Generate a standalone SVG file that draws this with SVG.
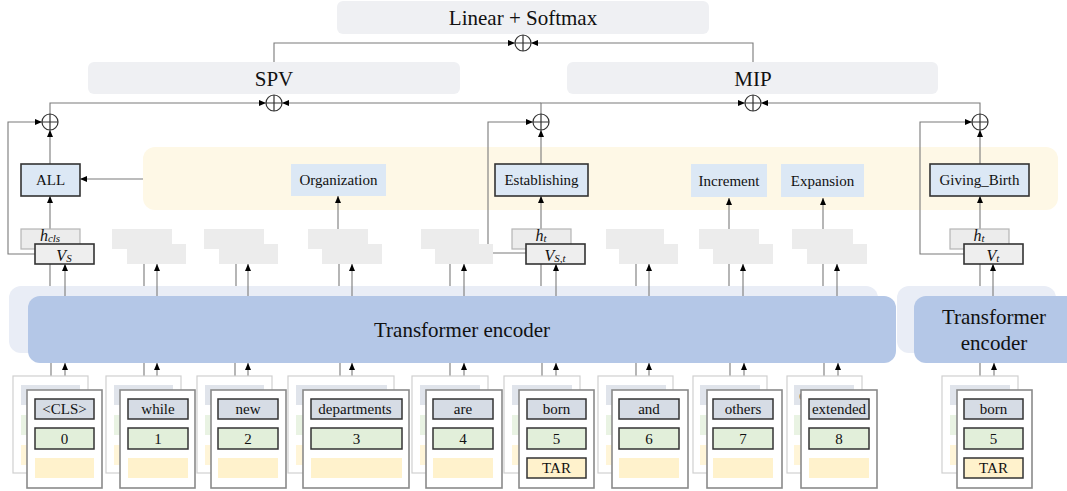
<svg xmlns="http://www.w3.org/2000/svg" width="1067" height="491" viewBox="0 0 1067 491" font-family="'Liberation Serif', 'DejaVu Serif', serif">
<style>
text{font-family:'Liberation Serif','DejaVu Serif',serif;fill:#111;text-anchor:middle}
.panel{fill:#eff0f3}
.big{font-size:21px}
.lbl{font-size:15px}
.tok{font-size:15px}
.m{font-style:italic;font-size:16px}
.sub{font-size:11px;font-style:italic}
.c{fill:none;stroke:#7a7a7a;stroke-width:1.1}
.ca{fill:none;stroke:#7a7a7a;stroke-width:1.1;marker-end:url(#ah)}
.blue{fill:#dce8f5}
.bd{stroke:#333;stroke-width:1.6}
.gb{fill:#ececec}
.gbs{fill:#ececec;stroke:#b5b5b5;stroke-width:1.2}
.vb{fill:#eeeeee;stroke:#333;stroke-width:1.6}
.bc{fill:#fff;stroke:#d0d0d0;stroke-width:1.2}
.fc{fill:#fff;stroke:#8a8a8a;stroke-width:1.6}
.t1{fill:#d6dce5}
.t2{fill:#e2efda}
.t3{fill:#fff2cc}
.bk{opacity:.75}
.in{stroke:#333;stroke-width:1.5}
.op{fill:#fff;stroke:#333;stroke-width:1.2}
</style>
<defs>
<marker id="ah" markerWidth="7" markerHeight="6" refX="7" refY="3" orient="auto" markerUnits="userSpaceOnUse"><path d="M0,0 L7,3 L0,6 z" fill="#000"/></marker>
<g id="plus"><circle r="8" class="op"/><path d="M-8,0H8M0,-8V8" stroke="#333" stroke-width="1.2"/></g>
</defs>
<rect x="0" y="0" width="1067" height="491" fill="#fff"/>

<!-- panels -->
<g id="linear"><rect x="337" y="1" width="372" height="33" rx="6" class="panel"/><text x="523" y="25" class="big">Linear + Softmax</text></g>
<g id="spv"><rect x="88" y="62" width="372" height="32" rx="6" class="panel"/><text x="274" y="86" class="big">SPV</text></g>
<g id="mip"><rect x="567" y="62" width="371" height="32" rx="6" class="panel"/><text x="753" y="86" class="big">MIP</text></g>
<g id="frames"><rect x="143" y="147" width="915" height="63" rx="12" fill="#fef8e6"/></g>
<g id="enc-back"><rect x="9" y="286" width="869" height="67" rx="12" fill="#e9edf6"/><rect x="897" y="286" width="159" height="67" rx="12" fill="#e9edf6"/></g>

<g id="connectors">
<path class="ca" d="M274,62V43H515"/>
<path class="ca" d="M753,62V43H531"/>
<path class="ca" d="M50,114V103H266"/>
<path class="ca" d="M541,103H282"/>
<path class="ca" d="M541,114V103H745"/>
<path class="ca" d="M980,114V103H761"/>
<path class="ca" d="M35,254H8V122H42"/>
<path class="ca" d="M526,253H488V122H533"/>
<path class="ca" d="M964,254H920V122H972"/>
<path class="ca" d="M50,164V130"/>
<path class="ca" d="M541,164V130"/>
<path class="ca" d="M980,164V130"/>
<path class="ca" d="M143,179H80"/>
<path class="ca" d="M50,229V196"/>
<path class="ca" d="M338,229V196"/>
<path class="ca" d="M541,229V196"/>
<path class="ca" d="M729,229V198"/>
<path class="ca" d="M823,229V198"/>
<path class="ca" d="M980,229V196"/>
<path class="c" d="M50,286V249M144,286V249M236,286V249M339,286V249M450,286V249M541,286V249M636,286V249M729,286V249M823,286V249M980,286V249"/>
<path class="ca" d="M65,296V264"/><path class="ca" d="M157,296V264"/><path class="ca" d="M248,296V264"/><path class="ca" d="M352,296V264"/><path class="ca" d="M464,296V264"/><path class="ca" d="M556,296V264"/><path class="ca" d="M649,296V264"/><path class="ca" d="M743,296V264"/><path class="ca" d="M837,296V264"/><path class="ca" d="M993,296V264"/>
<path class="c" d="M51,376V353M144,376V353M235,376V353M340,376V353M450,376V353M542,376V353M636,376V353M730,376V353M824,376V353M980,376V353"/>
<path class="ca" d="M65,390V363"/><path class="ca" d="M157,390V363"/><path class="ca" d="M248,390V363"/><path class="ca" d="M352,390V363"/><path class="ca" d="M464,390V363"/><path class="ca" d="M556,390V363"/><path class="ca" d="M649,390V363"/><path class="ca" d="M744,390V363"/><path class="ca" d="M838,390V363"/><path class="ca" d="M994,390V363"/>
</g>

<g id="encoder"><rect x="28" y="296" width="868" height="67" rx="12" fill="#b4c7e7"/><text x="462" y="337" class="big">Transformer encoder</text></g>
<g id="encoder2"><rect x="914" y="296" width="170" height="67" rx="12" fill="#b4c7e7"/><text x="994" y="324" class="big">Transformer</text><text x="994" y="350" class="big">encoder</text></g>

<g id="op-top"><use href="#plus" x="523" y="43"/></g>
<g id="op-spv"><use href="#plus" x="274" y="103"/></g>
<g id="op-mip"><use href="#plus" x="753" y="103"/></g>
<g id="op-1"><use href="#plus" x="50" y="122"/></g>
<g id="op-2"><use href="#plus" x="541" y="122"/></g>
<g id="op-3"><use href="#plus" x="980" y="122"/></g>

<g id="l-all"><rect x="21" y="164" width="59" height="32" class="blue bd"/><text x="50.5" y="185" class="lbl">ALL</text></g>
<g id="l-org"><rect x="291" y="164" width="95" height="32" class="blue"/><text x="338.5" y="185" class="lbl">Organization</text></g>
<g id="l-est"><rect x="495" y="164" width="93" height="32" class="blue bd"/><text x="541.5" y="185" class="lbl">Establishing</text></g>
<g id="l-inc"><rect x="691" y="164" width="76" height="33" class="blue"/><text x="729" y="186" class="lbl">Increment</text></g>
<g id="l-exp"><rect x="781" y="164" width="83" height="33" class="blue"/><text x="822.5" y="186" class="lbl">Expansion</text></g>
<g id="l-gb"><rect x="930" y="164" width="99" height="32" class="blue bd"/><text x="979.5" y="185" class="lbl">Giving_Birth</text></g>

<g id="h1"><rect x="21" y="229" width="59" height="20" class="gbs"/><text x="50" y="241" class="m">h<tspan class="sub" dy="1">cls</tspan></text><rect x="35" y="244" width="59" height="20" class="vb"/><text x="64" y="261" class="m">V<tspan class="sub" dy="1">S</tspan></text></g>
<g id="h2"><rect x="112" y="229" width="60" height="20" class="gb"/><rect x="127" y="244" width="59" height="20" class="gb"/></g>
<g id="h3"><rect x="204" y="229" width="60" height="20" class="gb"/><rect x="219" y="244" width="59" height="20" class="gb"/></g>
<g id="h4"><rect x="308" y="229" width="60" height="20" class="gb"/><rect x="322" y="244" width="60" height="20" class="gb"/></g>
<g id="h5"><rect x="421" y="229" width="58" height="20" class="gb"/><rect x="435" y="244" width="58" height="20" class="gb"/></g>
<g id="h6"><rect x="512" y="229" width="59" height="20" class="gbs"/><text x="541" y="241" class="m">h<tspan class="sub" dy="1">t</tspan></text><rect x="526" y="244" width="59" height="20" class="vb"/><text x="555" y="261" class="m">V<tspan class="sub" dy="1">S,t</tspan></text></g>
<g id="h7"><rect x="606" y="229" width="58" height="20" class="gb"/><rect x="619" y="244" width="59" height="20" class="gb"/></g>
<g id="h8"><rect x="699" y="229" width="60" height="20" class="gb"/><rect x="713" y="244" width="60" height="20" class="gb"/></g>
<g id="h9"><rect x="792" y="229" width="61" height="20" class="gb"/><rect x="807" y="244" width="60" height="20" class="gb"/></g>
<g id="h10"><rect x="950" y="229" width="59" height="20" class="gbs"/><text x="979" y="241" class="m">h<tspan class="sub" dy="1">t</tspan></text><rect x="964" y="244" width="59" height="20" class="vb"/><text x="993" y="261" class="m">V<tspan class="sub" dy="1">t</tspan></text></g>

<g id="card0">
<rect x="13" y="376" width="75" height="97" class="bc"/><g class="bk"><rect x="21" y="385" width="59" height="20" class="t1"/><rect x="21" y="415" width="59" height="20" class="t2"/><rect x="21" y="445" width="59" height="20" class="t3"/></g>
<rect x="27" y="390" width="75" height="98" class="fc"/><rect x="35" y="399" width="59" height="20" class="t1 in"/><text x="64.5" y="414" class="tok">&lt;CLS&gt;</text><rect x="35" y="428" width="59" height="21" class="t2 in"/><text x="64.5" y="444" class="tok">0</text><rect x="35" y="458" width="59" height="20" class="t3"/>
</g>
<g id="card1">
<rect x="106" y="376" width="75" height="97" class="bc"/><g class="bk"><rect x="114" y="385" width="59" height="20" class="t1"/><rect x="114" y="415" width="59" height="20" class="t2"/><rect x="114" y="445" width="59" height="20" class="t3"/></g>
<rect x="120" y="390" width="75" height="98" class="fc"/><rect x="128" y="399" width="60" height="20" class="t1 in"/><text x="158" y="414" class="tok">while</text><rect x="128" y="428" width="60" height="21" class="t2 in"/><text x="158" y="444" class="tok">1</text><rect x="128" y="458" width="60" height="20" class="t3"/>
</g>
<g id="card2">
<rect x="197" y="376" width="75" height="97" class="bc"/><g class="bk"><rect x="205" y="385" width="59" height="20" class="t1"/><rect x="205" y="415" width="59" height="20" class="t2"/><rect x="205" y="445" width="59" height="20" class="t3"/></g>
<rect x="211" y="390" width="75" height="98" class="fc"/><rect x="218" y="399" width="60" height="20" class="t1 in"/><text x="248" y="414" class="tok">new</text><rect x="218" y="428" width="60" height="21" class="t2 in"/><text x="248" y="444" class="tok">2</text><rect x="218" y="458" width="60" height="20" class="t3"/>
</g>
<g id="card3">
<rect x="288" y="376" width="106" height="97" class="bc"/><g class="bk"><rect x="296" y="385" width="91" height="20" class="t1"/><rect x="296" y="415" width="91" height="20" class="t2"/><rect x="296" y="445" width="91" height="20" class="t3"/></g>
<rect x="303" y="390" width="106" height="98" class="fc"/><rect x="311" y="399" width="91" height="20" class="t1 in"/><text x="355" y="414" class="tok">departments</text><rect x="311" y="428" width="91" height="21" class="t2 in"/><text x="356.5" y="444" class="tok">3</text><rect x="311" y="458" width="91" height="20" class="t3"/>
</g>
<g id="card4">
<rect x="412" y="376" width="76" height="97" class="bc"/><g class="bk"><rect x="420" y="385" width="60" height="20" class="t1"/><rect x="420" y="415" width="60" height="20" class="t2"/><rect x="420" y="445" width="60" height="20" class="t3"/></g>
<rect x="426" y="390" width="76" height="98" class="fc"/><rect x="433" y="399" width="60" height="20" class="t1 in"/><text x="463" y="414" class="tok">are</text><rect x="433" y="428" width="60" height="21" class="t2 in"/><text x="463" y="444" class="tok">4</text><rect x="433" y="458" width="60" height="20" class="t3"/>
</g>
<g id="card5">
<rect x="504" y="376" width="76" height="97" class="bc"/><g class="bk"><rect x="512" y="385" width="60" height="20" class="t1"/><rect x="512" y="415" width="60" height="20" class="t2"/><rect x="512" y="445" width="60" height="20" class="t3"/></g>
<rect x="519" y="390" width="75" height="98" class="fc"/><rect x="527" y="399" width="59" height="20" class="t1 in"/><text x="556.5" y="414" class="tok">born</text><rect x="527" y="428" width="59" height="21" class="t2 in"/><text x="556.5" y="444" class="tok">5</text><rect x="527" y="458" width="59" height="20" class="t3 in"/><text x="556.5" y="473" class="tok">TAR</text>
</g>
<g id="card6">
<rect x="598" y="376" width="75" height="97" class="bc"/><g class="bk"><rect x="606" y="385" width="60" height="20" class="t1"/><rect x="606" y="415" width="60" height="20" class="t2"/><rect x="606" y="445" width="60" height="20" class="t3"/></g>
<rect x="612" y="390" width="76" height="98" class="fc"/><rect x="619" y="399" width="60" height="20" class="t1 in"/><text x="649" y="414" class="tok">and</text><rect x="619" y="428" width="60" height="21" class="t2 in"/><text x="649" y="444" class="tok">6</text><rect x="619" y="458" width="60" height="20" class="t3"/>
</g>
<g id="card7">
<rect x="693" y="376" width="74" height="97" class="bc"/><g class="bk"><rect x="700" y="385" width="60" height="20" class="t1"/><rect x="700" y="415" width="60" height="20" class="t2"/><rect x="700" y="445" width="60" height="20" class="t3"/></g>
<rect x="707" y="390" width="75" height="98" class="fc"/><rect x="713" y="399" width="60" height="20" class="t1 in"/><text x="743" y="414" class="tok">others</text><rect x="713" y="428" width="60" height="21" class="t2 in"/><text x="743" y="444" class="tok">7</text><rect x="713" y="458" width="60" height="20" class="t3"/>
</g>
<g id="card8">
<rect x="787" y="376" width="75" height="97" class="bc"/><g class="bk"><rect x="794" y="385" width="60" height="20" class="t1"/><text x="826" y="400" class="tok">extended</text><rect x="794" y="415" width="60" height="20" class="t2"/><rect x="794" y="445" width="60" height="20" class="t3"/></g>
<rect x="801" y="390" width="76" height="98" class="fc"/><rect x="809" y="399" width="60" height="20" class="t1 in"/><text x="839" y="414" class="tok">extended</text><rect x="809" y="428" width="60" height="21" class="t2 in"/><text x="839" y="444" class="tok">8</text><rect x="809" y="458" width="60" height="20" class="t3"/>
</g>
<g id="card9">
<rect x="942" y="376" width="76" height="97" class="bc"/><g class="bk"><rect x="950" y="385" width="60" height="20" class="t1"/><rect x="950" y="415" width="60" height="20" class="t2"/><rect x="950" y="445" width="60" height="20" class="t3"/></g>
<rect x="957" y="390" width="75" height="98" class="fc"/><rect x="964" y="399" width="59" height="20" class="t1 in"/><text x="993.5" y="414" class="tok">born</text><rect x="964" y="428" width="59" height="21" class="t2 in"/><text x="993.5" y="444" class="tok">5</text><rect x="964" y="458" width="59" height="20" class="t3 in"/><text x="993.5" y="473" class="tok">TAR</text>
</g>
</svg>
